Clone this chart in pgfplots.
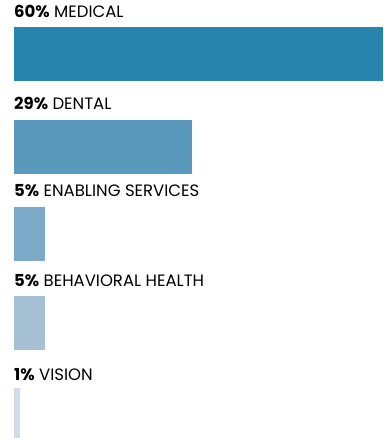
\documentclass[border=0pt]{standalone}
\usepackage{fontspec}
\setmainfont{Poppins}
\usepackage{pgfplots}
\pgfplotsset{compat=1.18}
\definecolor{cA}{HTML}{2785AE}
\definecolor{cB}{HTML}{5A98BC}
\definecolor{cC}{HTML}{7DA9C8}
\definecolor{cD}{HTML}{A6C1D6}
\definecolor{cE}{HTML}{CFDCE7}
\begin{document}
\begin{tikzpicture}[x=1pt,y=1pt]
\useasboundingbox (0,0) rectangle (383,438);
\begin{axis}[
  at={(14pt,0pt)}, anchor=south west,
  scale only axis, width=369pt, height=438pt,
  xmin=0, xmax=60, ymin=0, ymax=438, y dir=reverse,
  hide axis, xbar, bar width=54, bar shift=0pt,
  clip=true,
]
\addplot[fill=cA, draw=none] coordinates {(60,54)};
\addplot[fill=cB, draw=none] coordinates {(29,147.5)};
\addplot[fill=cC, draw=none] coordinates {(5,234)};
\addplot[fill=cD, draw=none] coordinates {(5,323)};
\addplot[fill=cE, draw=none] coordinates {(1,415)};
\end{axis}
\begin{scope}[every node/.style={anchor=base west, inner sep=0pt, font=\fontsize{16.5}{18}\selectfont}]
\node at (14,438-18) {\textbf{60\%} MEDICAL};
\node at (14,438-110) {\textbf{29\%} DENTAL};
\node at (14,438-197) {\textbf{5\%} ENABLING SERVICES};
\node at (14,438-287) {\textbf{5\%} BEHAVIORAL HEALTH};
\node at (14,438-381) {\textbf{1\%} VISION};
\end{scope}
\end{tikzpicture}
\end{document}
